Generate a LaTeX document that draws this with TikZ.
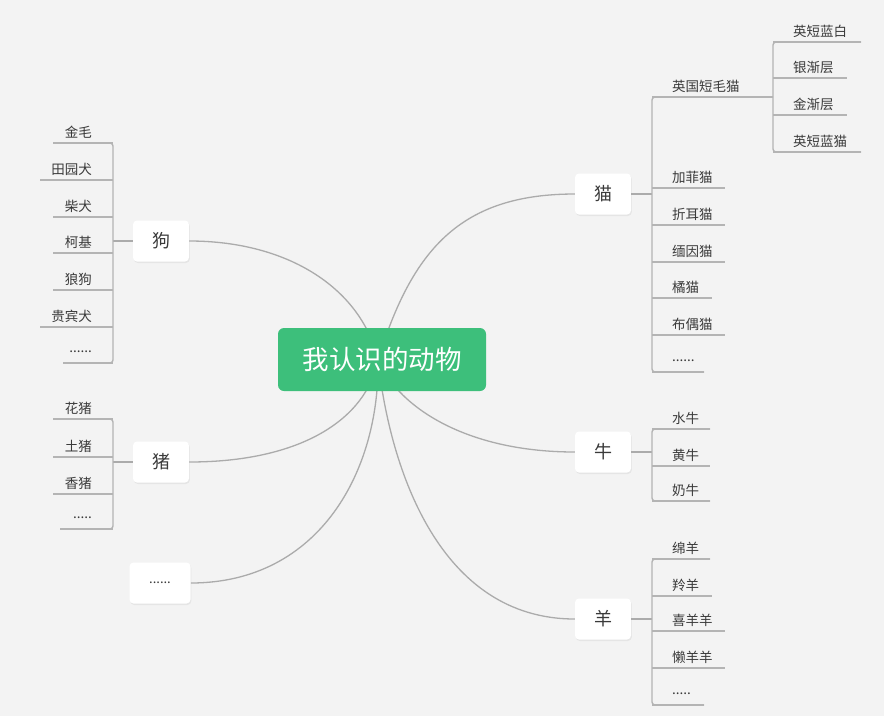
\documentclass[tikz,border=0pt]{standalone}
\usepackage{fontspec}
\setmainfont{Noto Sans CJK SC}
\usetikzlibrary{shadows}
\definecolor{bg}{HTML}{F3F3F3}
\definecolor{lineg}{HTML}{ABABAB}
\definecolor{brkg}{HTML}{B4B4B4}
\definecolor{txt}{HTML}{3A3A3A}
\definecolor{mgreen}{HTML}{3DBF7B}
\newcommand\sixdotsx{......}
\newcommand\fivedotsx{.....}
\pgfdeclarelayer{bgfill}
\pgfdeclarelayer{background}
\pgfsetlayers{bgfill,background,main}
\begin{document}
\begin{tikzpicture}[x=1pt,y=-1pt,
  conn/.style={draw=lineg,line width=1.3pt},
  brk/.style={draw=brkg,line width=1.4pt,rounded corners=3pt},
  leaf/.style={text=txt,font=\fontsize{13.5}{15}\selectfont,inner sep=0pt},
  branch/.style={fill=white,rounded corners=4pt,minimum width=56pt,minimum height=41pt,
    text=txt,font=\fontsize{18}{20}\selectfont,
    drop shadow={opacity=0.12,shadow xshift=0.8pt,shadow yshift=-1.5pt}},
  rootbox/.style={fill=mgreen,rounded corners=6pt,minimum width=208pt,minimum height=63pt,
    text=white,font=\fontsize{26.5}{28}\selectfont}]
\begin{pgfonlayer}{bgfill}
\path[fill=bg] (0,0) rectangle (884,716);
\end{pgfonlayer}
\useasboundingbox (0,0) rectangle (884,716);

% root and branches
\node[rootbox] (root) at (382,359.5) {我认识的动物};
\coordinate (hub) at (378,360);
\node[branch] (dog) at (161,241) {狗};
\node[branch] (pig) at (161,462) {猪};
\node[branch,minimum width=61pt,font=\fontsize{13}{15}\selectfont] (more) at (160,583) {\sixdotsx};
\node[branch] (cat) at (603,194) {猫};
\node[branch] (cow) at (603,452) {牛};
\node[branch] (sheep) at (603,619) {羊};

\begin{pgfonlayer}{background}
\draw[conn] (hub) .. controls (362,290) and (290,241) .. (dog.east);
\draw[conn] (hub) .. controls (366,420) and (300,462) .. (pig.east);
\draw[conn] (hub) .. controls (380,470) and (320,583) .. (more.east);
\draw[conn] (hub) .. controls (412,250) and (460,194) .. (cat.west);
\draw[conn] (hub) .. controls (400,410) and (470,452) .. (cow.west);
\draw[conn] (hub) .. controls (390,470) and (440,619) .. (sheep.west);
\end{pgfonlayer}

% bracket junctions
\coordinate (dogj) at (113,241);
\coordinate (pigj) at (113,462);
\coordinate (catj) at (652,194);
\coordinate (cowj) at (652,452);
\coordinate (sheepj) at (652,619);
\draw[conn] (dog.west) -- (dogj);
\draw[conn] (pig.west) -- (pigj);
\draw[conn] (cat.east) -- (catj);
\draw[conn] (cow.east) -- (cowj);
\draw[conn] (sheep.east) -- (sheepj);

% cat leaves
\foreach \y/\e/\t/\n in {97/773/英国短毛猫/c1,188/725/加菲猫/c2,225/725/折耳猫/c3,262/725/缅因猫/c4,298/712/橘猫/c5,335/725/布偶猫/c6,372/704/\sixdotsx/c7}{
  \node[leaf,anchor=west] (\n) at (672,\y-11) {\t};
  \draw[brk] (652,\y) -- (\e,\y);
}
\draw[brk] (773,97) -- (652,97) -- (652,372) -- (704,372);
% British shorthair sub leaves
\foreach \y/\e/\t/\n in {42/861/英短蓝白/s1,78/847/银渐层/s2,115/847/金渐层/s3,152/861/英短蓝猫/s4}{
  \node[leaf,anchor=west] (\n) at (793,\y-11) {\t};
  \draw[brk] (773,\y) -- (\e,\y);
}
\draw[brk] (861,42) -- (773,42) -- (773,152) -- (861,152);

% cow leaves
\foreach \y/\e/\t/\n in {429/710/水牛/w1,466/710/黄牛/w2,501/710/奶牛/w3}{
  \node[leaf,anchor=west] (\n) at (672,\y-11) {\t};
  \draw[brk] (652,\y) -- (\e,\y);
}
\draw[brk] (710,429) -- (652,429) -- (652,501) -- (710,501);

% sheep leaves
\foreach \y/\e/\t/\n in {559/710/绵羊/y1,596/712/羚羊/y2,631/725/喜羊羊/y3,668/725/懒羊羊/y4,705/704/\fivedotsx/y5}{
  \node[leaf,anchor=west] (\n) at (672,\y-11) {\t};
  \draw[brk] (652,\y) -- (\e,\y);
}
\draw[brk] (710,559) -- (652,559) -- (652,705) -- (704,705);

% dog leaves
\foreach \y/\s/\t/\n in {143/53/金毛/d1,180/40/田园犬/d2,217/53/柴犬/d3,253/53/柯基/d4,290/53/狼狗/d5,327/40/贵宾犬/d6,363/63/\sixdotsx/d7}{
  \node[leaf,anchor=east] (\n) at (92,\y-11) {\t};
  \draw[brk] (\s,\y) -- (113,\y);
}
\draw[brk] (53,143) -- (113,143) -- (113,363) -- (63,363);

% pig leaves
\foreach \y/\s/\t/\n in {419/53/花猪/p1,457/53/土猪/p2,494/53/香猪/p3,529/60/\fivedotsx/p4}{
  \node[leaf,anchor=east] (\n) at (92,\y-11) {\t};
  \draw[brk] (\s,\y) -- (113,\y);
}
\draw[brk] (53,419) -- (113,419) -- (113,529) -- (60,529);
\end{tikzpicture}
\end{document}
